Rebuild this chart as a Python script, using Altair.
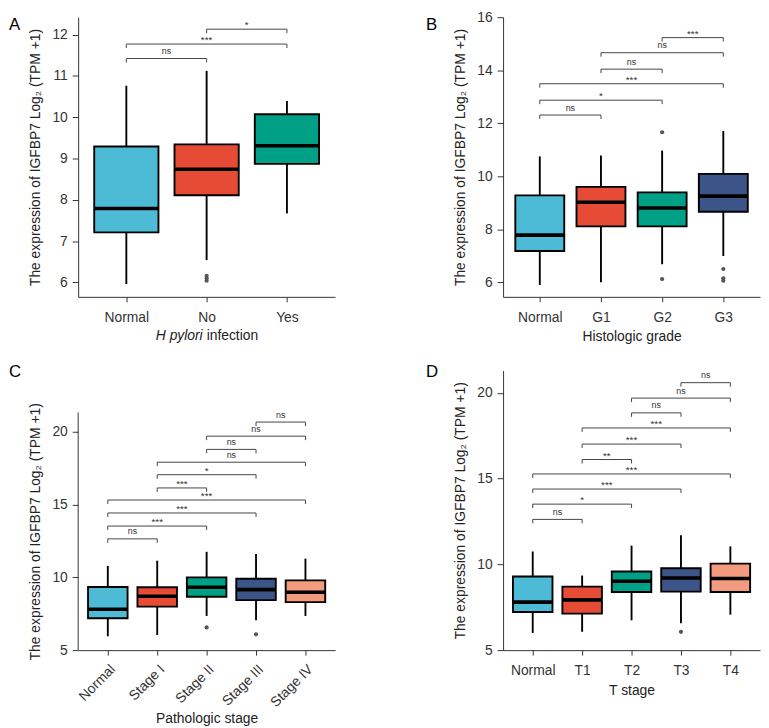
import altair as alt
import pandas as pd

FONT = "Liberation Sans"
PALETTE = ["#4DBBD5", "#E64B35", "#00A087", "#3C5488", "#F39B7F"]
Y_TITLE = "The expression of IGFBP7 Log\u2082 (TPM +1)"

# ---------------- Panel A : H pylori infection ----------------
a_groups = ["Normal", "No", "Yes"]
a_lower = [5.96, 6.54, 7.67]
a_q1 = [7.21, 8.11, 8.87]
a_median = [7.79, 8.74, 9.31]
a_q3 = [9.29, 9.34, 10.07]
a_upper = [10.76, 11.12, 10.39]
a_out_group = ["No", "No", "No"]
a_out_value = [6.16, 6.10, 6.04]
a_sig_from = ["Normal", "Normal", "No"]
a_sig_to = ["No", "Yes", "Yes"]
a_sig_y = [11.42, 11.77, 12.13]
a_sig_label = ["ns", "***", "*"]
a_yticks = [6, 7, 8, 9, 10, 11, 12]

# ---------------- Panel B : Histologic grade ----------------
b_groups = ["Normal", "G1", "G2", "G3"]
b_lower = [5.90, 6.00, 6.68, 6.99]
b_q1 = [7.18, 8.11, 8.11, 8.66]
b_median = [7.78, 9.02, 8.80, 9.25]
b_q3 = [9.28, 9.60, 9.39, 10.09]
b_upper = [10.75, 10.78, 10.97, 11.71]
b_out_group = ["G2", "G2", "G3", "G3", "G3"]
b_out_value = [11.66, 6.12, 6.50, 6.15, 6.06]
b_sig_from = ["Normal", "Normal", "Normal", "G1", "G1", "G2"]
b_sig_to = ["G1", "G2", "G3", "G2", "G3", "G3"]
b_sig_y = [12.31, 12.87, 13.49, 14.04, 14.66, 15.23]
b_sig_label = ["ns", "*", "***", "ns", "ns", "***"]
b_yticks = [6, 8, 10, 12, 14, 16]

# ---------------- Panel C : Pathologic stage ----------------
c_groups = ["Normal", "Stage I", "Stage II", "Stage III", "Stage IV"]
c_lower = [5.95, 6.04, 7.35, 7.06, 7.35]
c_q1 = [7.19, 7.99, 8.67, 8.44, 8.30]
c_median = [7.81, 8.71, 9.32, 9.16, 8.98]
c_q3 = [9.34, 9.32, 10.00, 9.91, 9.80]
c_upper = [10.79, 11.15, 11.76, 11.61, 11.29]
c_out_group = ["Stage II", "Stage III"]
c_out_value = [6.56, 6.09]
c_sig_from = ["Normal", "Normal", "Normal", "Normal", "Stage I", "Stage I",
              "Stage I", "Stage II", "Stage II", "Stage III"]
c_sig_to = ["Stage I", "Stage II", "Stage III", "Stage IV", "Stage II", "Stage III",
            "Stage IV", "Stage III", "Stage IV", "Stage IV"]
c_sig_y = [12.65, 13.53, 14.43, 15.32, 16.15, 17.06, 17.92, 18.80, 19.71, 20.68]
c_sig_label = ["ns", "***", "***", "***", "***", "*", "ns", "ns", "ns", "ns"]
c_yticks = [5, 10, 15, 20]

# ---------------- Panel D : T stage ----------------
d_groups = ["Normal", "T1", "T2", "T3", "T4"]
d_lower = [6.00, 6.07, 6.74, 6.57, 7.07]
d_q1 = [7.22, 7.13, 8.39, 8.41, 8.39]
d_median = [7.80, 7.93, 9.02, 9.21, 9.18]
d_q3 = [9.29, 8.70, 9.58, 9.77, 10.04]
d_upper = [10.75, 9.35, 11.09, 11.70, 11.05]
d_out_group = ["T3"]
d_out_value = [6.07]
d_sig_from = ["Normal", "Normal", "Normal", "Normal", "T1", "T1", "T1", "T2", "T2", "T3"]
d_sig_to = ["T1", "T2", "T3", "T4", "T2", "T3", "T4", "T3", "T4", "T4"]
d_sig_y = [12.62, 13.51, 14.39, 15.27, 16.11, 17.01, 17.95, 18.83, 19.69, 20.59]
d_sig_label = ["ns", "*", "***", "***", "**", "***", "***", "ns", "ns", "ns"]
d_yticks = [5, 10, 15, 20]

W = 260
H = 283


def panel(groups, lower, q1, med, q3, upper, out_g, out_v, s_from, s_to, s_y, s_lab,
          ydomain, yticks, letter, letter_dx, letter_dy, xtitle,
          label_angle=0, x_label_pad=8.5, x_title_pad=6, axis_line_top=None,
          y_title_y=None, extra_layers=None):
    n = len(groups)
    idx = {g: i + 1 for i, g in enumerate(groups)}
    boxes = pd.DataFrame({
        "group": groups, "pos": [idx[g] for g in groups],
        "lower": lower, "q1": q1, "median": med, "q3": q3, "upper": upper,
        "col": PALETTE[:n],
    })
    outs = pd.DataFrame({"pos": [idx[g] for g in out_g], "value": out_v})
    sig = pd.DataFrame({"x1": [idx[g] for g in s_from], "x2": [idx[g] for g in s_to],
                        "y": s_y, "label": s_lab})
    tip = 4.0 * (ydomain[1] - ydomain[0]) / H

    xs = alt.Scale(domain=[0.4, n + 0.6], nice=False, zero=False)
    ys = alt.Scale(domain=ydomain, nice=False, zero=False)
    label_expr = "[" + ", ".join("'%s'" % g for g in groups) + "][datum.value - 1]"

    xkw = dict(values=list(range(1, n + 1)), labelExpr=label_expr, grid=False,
               tickSize=5, labelPadding=x_label_pad, labelAngle=label_angle,
               titlePadding=x_title_pad, title=xtitle)
    if label_angle != 0:
        xkw["labelAlign"] = "right"
        xkw["labelBaseline"] = "top"
    xaxis = alt.Axis(**xkw)

    ykw = dict(values=yticks, grid=False, tickSize=6, labelPadding=5,
               titlePadding=9.5, title=Y_TITLE)
    if axis_line_top is not None:
        ykw["domain"] = False
    if y_title_y is not None:
        ykw["titleY"] = y_title_y
    yaxis = alt.Axis(**ykw)

    def X(f):
        return alt.X(f, type="quantitative", scale=xs, axis=xaxis)

    def Y(f):
        return alt.Y(f, type="quantitative", scale=ys, axis=yaxis)

    layers = []
    if axis_line_top is not None:
        line_df = pd.DataFrame({"y0": [ydomain[0]], "y1": [axis_line_top]})
        layers.append(alt.Chart(line_df).mark_rule(color="#333", strokeWidth=1).encode(
            x=alt.value(0), y=Y("y0"), y2="y1"))

    layers.append(alt.Chart(boxes).mark_rule(color="black", strokeWidth=1.9).encode(
        x=X("pos"), y=Y("lower"), y2="upper"))
    layers.append(alt.Chart(boxes).transform_calculate(
        lo="datum.pos - 0.4", hi="datum.pos + 0.4"
    ).mark_bar(stroke="black", strokeWidth=1.9).encode(
        x=X("lo"), x2="hi", y=Y("q1"), y2="q3", fill=alt.Fill("col:N", scale=None)))
    layers.append(alt.Chart(boxes).transform_calculate(
        lo="datum.pos - 0.4", hi="datum.pos + 0.4"
    ).mark_rule(color="black", strokeWidth=3.6).encode(
        x=X("lo"), x2="hi", y=Y("median")))
    layers.append(alt.Chart(outs).mark_circle(size=18, color="#555", opacity=1).encode(
        x=X("pos"), y=Y("value")))

    sig_base = alt.Chart(sig).transform_calculate(
        yt="datum.y - %f" % tip, mid="(datum.x1 + datum.x2) / 2")
    layers.append(sig_base.mark_rule(color="#444", strokeWidth=1).encode(
        x=X("x1"), x2="x2", y=Y("y")))
    layers.append(sig_base.mark_rule(color="#444", strokeWidth=1).encode(
        x=X("x1"), y=Y("y"), y2="yt"))
    layers.append(sig_base.mark_rule(color="#444", strokeWidth=1).encode(
        x=X("x2"), y=Y("y"), y2="yt"))
    layers.append(sig_base.transform_filter("datum.label == 'ns'").mark_text(
        font=FONT, fontSize=9, baseline="alphabetic", dy=-4.5, color="#333").encode(
        x=X("mid"), y=Y("y"), text="label:N"))
    layers.append(sig_base.transform_filter("datum.label != 'ns'").mark_text(
        font=FONT, fontSize=10, baseline="alphabetic", dy=-1, color="#333").encode(
        x=X("mid"), y=Y("y"), text="label:N"))

    letter_df = pd.DataFrame({"t": [letter]})
    layers.append(alt.Chart(letter_df).mark_text(
        font=FONT, fontSize=17, align="left", baseline="top", color="black").encode(
        x=alt.value(letter_dx), y=alt.value(letter_dy), text="t:N"))

    if extra_layers:
        layers.extend(extra_layers)

    return alt.layer(*layers).properties(width=W, height=H)


# A's x title has an italic part, drawn as two text pieces
a_title_df = pd.DataFrame({"t": ["H pylori"]})
a_title_df2 = pd.DataFrame({"t": ["infection"]})
a_title_layers = [
    alt.Chart(a_title_df).mark_text(font=FONT, fontSize=14, fontStyle="italic",
                                    align="right", baseline="middle", color="#222").encode(
        x=alt.value(W / 2 - 4), y=alt.value(H + 39.5), text="t:N"),
    alt.Chart(a_title_df2).mark_text(font=FONT, fontSize=14,
                                     align="left", baseline="middle", color="#222").encode(
        x=alt.value(W / 2), y=alt.value(H + 39.5), text="t:N"),
]

pA = panel(a_groups, a_lower, a_q1, a_median, a_q3, a_upper, a_out_group, a_out_value,
           a_sig_from, a_sig_to, a_sig_y, a_sig_label,
           [5.65, 12.42], a_yticks, "A", -70, 0, None, extra_layers=a_title_layers)
pB = panel(b_groups, b_lower, b_q1, b_median, b_q3, b_upper, b_out_group, b_out_value,
           b_sig_from, b_sig_to, b_sig_y, b_sig_label,
           [5.45, 16.0], b_yticks, "B", -78, 0, "Histologic grade")
c_top = 5 + H / 14.72
pC = panel(c_groups, c_lower, c_q1, c_median, c_q3, c_upper, c_out_group, c_out_value,
           c_sig_from, c_sig_to, c_sig_y, c_sig_label,
           [5.0, c_top], c_yticks, "C", -70, -6, "Pathologic stage",
           label_angle=315, x_label_pad=7, x_title_pad=2, axis_line_top=21.34,
           y_title_y=(H - (21.34 - 5) * 14.72 / 2))
pD = panel(d_groups, d_lower, d_q1, d_median, d_q3, d_upper, d_out_group, d_out_value,
           d_sig_from, d_sig_to, d_sig_y, d_sig_label,
           [5.0, 21.3], d_yticks, "D", -78, -6, "T stage")

top = alt.hconcat(pA, pB, spacing=90)
bottom = alt.hconcat(pC, pD, spacing=90)

chart = alt.vconcat(top, bottom, spacing=18.5).properties(
    padding={"left": 0, "top": -3, "right": 0, "bottom": 0}
).configure_view(stroke="transparent").configure_axis(
    domainColor="#333", domainWidth=1, tickColor="#333", tickWidth=1,
    labelFont=FONT, titleFont=FONT, labelFontSize=14, titleFontSize=14,
    titleFontWeight="normal", labelColor="#333", titleColor="#222", grid=False)

chart.save("out.html", embed_options={"renderer": "svg", "actions": False})
